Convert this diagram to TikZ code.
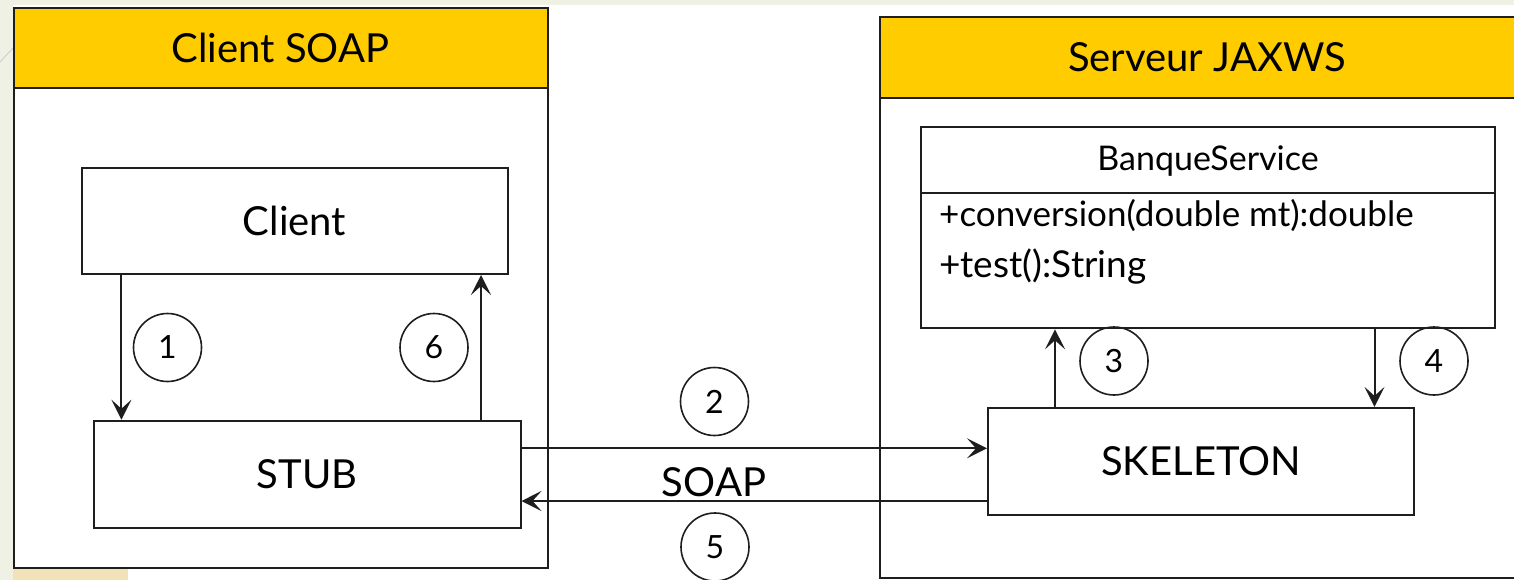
\documentclass[tikz,border=0pt]{standalone}
\usepackage{fontspec}
\setmainfont{Lato}
\usetikzlibrary{arrows.meta}
\definecolor{hdr}{HTML}{FFCC00}
\definecolor{ink}{HTML}{1E1E1E}
\definecolor{bgside}{HTML}{EEF1E3}
\definecolor{beige}{HTML}{F2E2B8}
\tikzset{
  box/.style={draw=ink, line width=2pt, fill=white, inner sep=0pt},
  header/.style={draw=ink, line width=2pt, fill=hdr, inner sep=0pt, font=\fontsize{40}{48}\selectfont},
  label/.style={font=\fontsize{40}{46}\selectfont},
  num/.style={draw=ink, circle, line width=1.6pt, minimum size=68pt, inner sep=0pt, font=\fontsize{32}{38}\selectfont},
  arr/.style={draw=ink, line width=2pt, -{Stealth[length=20pt,width=20pt,inset=9pt]}},
}
\begin{document}
\begin{tikzpicture}[x=1pt,y=-1pt]
\useasboundingbox (0,0) rectangle (1514,580);
\clip (0,0) rectangle (1514,580);
% background
\fill[white] (0,0) rectangle (1514,580);
\fill[bgside] (0,0) rectangle (13,580);
\fill[bgside] (0,0) rectangle (1514,5);
\fill[beige] (13,569) rectangle (128,580);
\draw[gray!40, line width=0.8pt] (0,62) -- (13,48);
% containers
\node[box, minimum width=534pt, minimum height=559.5pt] (cliC) at (280.5,287.75) {};
\node[header, minimum width=534pt, minimum height=80pt] (cliH) at (280.5,48) {Client SOAP};
\node[box, minimum width=654pt, minimum height=561pt] (srvC) at (1207,297.5) {};
\node[header, minimum width=654pt, minimum height=81pt] (srvH) at (1207,57.5) {Serveur JAXWS};
% inner boxes
\node[box, label, minimum width=426pt, minimum height=106pt] (client) at (294.5,221) {Client};
\node[box, label, minimum width=427pt, minimum height=107.6pt] (stub) at (307,474.5) {STUB};
\node[box, label, minimum width=426pt, minimum height=107pt] (skel) at (1201,461.4) {SKELETON};
\node[box, minimum width=574pt, minimum height=201.6pt] (bs) at (1208,227.5) {};
\node[font=\fontsize{34}{40}\selectfont] (bsT) at (1208,161) {BanqueService};
\coordinate (sep) at (0,193.3);
\draw[ink, line width=2pt] (bs.west |- sep) -- (bs.east |- sep);
\node[anchor=base west, inner sep=0pt, font=\fontsize{35}{40}\selectfont] (m1) at (939,226) {+conversion(double mt):double};
\node[anchor=base west, inner sep=0pt, font=\fontsize{37}{42}\selectfont] (m2) at (939,277) {+test():String};
% arrow positions
\coordinate (x1) at (121.4,0);
\coordinate (x6) at (481,0);
\coordinate (x3) at (1055,0);
\coordinate (x4) at (1374.5,0);
\coordinate (y2) at (0,448.3);
\coordinate (y5) at (0,501);
\draw[arr] (client.south -| x1) -- (stub.north -| x1);
\draw[arr] (stub.north -| x6) -- (client.south -| x6);
\draw[arr] (stub.east |- y2) -- (skel.west |- y2);
\draw[arr] (skel.west |- y5) -- (stub.east |- y5);
\draw[arr] (skel.north -| x3) -- (bs.south -| x3);
\draw[arr] (bs.south -| x4) -- (skel.north -| x4);
% numbers
\node[num] (n1) at (167.5,347.5) {1};
\node[num] (n6) at (434,347.5) {6};
\node[num] (n2) at (714.5,401.5) {2};
\node[num] (n5) at (715,547) {5};
\node[num] (n3) at (1114,361) {3};
\node[num] (n4) at (1434,361) {4};
\node[label] (soap) at (714,482) {SOAP};
\end{tikzpicture}
\end{document}
